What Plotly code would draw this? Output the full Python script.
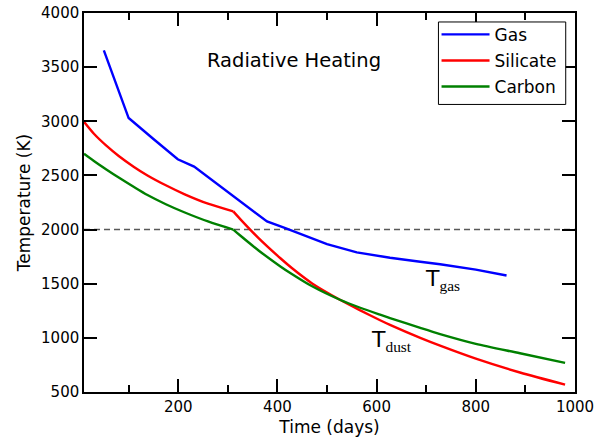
import plotly.graph_objects as go

# ---- data ----
gas_days = [50, 100, 150, 199, 232, 295, 325, 379, 416, 456, 500, 560, 627, 688, 728, 800, 862]
gas_temp = [3655, 3030, 2836, 2649, 2581, 2362, 2258, 2075, 2013, 1940, 1865, 1790, 1740, 1703, 1680, 1630, 1576]

dust_days = [10, 30, 55, 80, 110, 138, 175, 212, 260, 311,
             325, 362, 406, 429, 470, 526, 567, 607, 627, 688, 728, 800, 889, 980]
silicate_temp = [2995, 2885, 2775, 2680, 2581, 2500, 2409, 2328, 2239, 2168,
                 2097, 1921, 1735, 1645, 1503, 1352, 1254, 1163, 1120, 1000, 928, 808, 680, 568]
carbon_temp = [2700, 2633, 2555, 2480, 2395, 2319, 2234, 2160, 2075, 2000,
               1945, 1807, 1660, 1590, 1476, 1352, 1278, 1214, 1183, 1092, 1035, 945, 858, 769]

kink_day = 311          # day where the dust curves change slope
threshold_temp = 2000
x_range = [10, 1000]
y_range = [500, 4000]
x_major = [200, 400, 600, 800, 1000]
x_minor = [100, 300, 500, 700, 900]
y_major = [500, 1000, 1500, 2000, 2500, 3000, 3500, 4000]

FONT = "DejaVu Sans"
LW = 2.4

fig = go.Figure()
fig.add_trace(go.Scatter(x=gas_days, y=gas_temp, mode="lines", name="Gas",
                         legendgroup="gas", line=dict(color="#0000ff", width=LW)))


def add_dust(temps, name, color):
    k = dust_days.index(kink_day)
    first = True
    for lo, hi in ((0, k + 1), (k, len(dust_days))):
        fig.add_trace(go.Scatter(x=dust_days[lo:hi], y=temps[lo:hi], mode="lines", name=name,
                                 legendgroup=name, showlegend=first,
                                 line=dict(color=color, width=LW, shape="spline", smoothing=0.8)))
        first = False


add_dust(silicate_temp, "Silicate", "#ff0000")
add_dust(carbon_temp, "Carbon", "#008000")

fig.add_hline(y=threshold_temp, line=dict(color="rgba(0,0,0,0.65)", width=1.5, dash="6px,4px"),
              layer="below")

# legend frame
fig.add_shape(type="rect", xref="paper", yref="paper", x0=0.7219, x1=0.9811, y0=0.7587, y1=0.9763,
              line=dict(color="black", width=1), fillcolor="white", layer="above")

axis_common = dict(
    showline=True, linecolor="black", linewidth=1.5, mirror="allticks",
    ticks="inside", ticklen=13, tickwidth=1.5, tickcolor="black",
    showgrid=False, zeroline=False, automargin=False,
    tickfont=dict(family=FONT, size=15, color="black"),
)

fig.update_xaxes(range=x_range, tickvals=x_major,
                 minor=dict(tickvals=x_minor, ticks="inside", ticklen=7,
                            tickwidth=1.5, tickcolor="black", showgrid=False),
                 title=dict(text="Time (days)", font=dict(family=FONT, size=17, color="black"), standoff=6),
                 **axis_common)
fig.update_yaxes(range=y_range, tickvals=y_major,
                 title=dict(text="Temperature (K)", font=dict(family=FONT, size=17, color="black"), standoff=6),
                 **axis_common)

fig.add_annotation(text="Radiative Heating", xref="paper", yref="paper", x=0.428, y=0.875,
                   xanchor="center", yanchor="middle", showarrow=False,
                   font=dict(family=FONT, size=19.5, color="black"))
fig.add_annotation(text="T<sub><span style='font-family:Liberation Serif'>gas</span></sub>",
                   xref="x", yref="y", x=694, y=1536, xanchor="left", yanchor="middle",
                   showarrow=False, font=dict(family=FONT, size=22, color="black"))
fig.add_annotation(text="T<sub><span style='font-family:Liberation Serif'>dust</span></sub>",
                   xref="x", yref="y", x=585, y=975, xanchor="left", yanchor="middle",
                   showarrow=False, font=dict(family=FONT, size=22, color="black"))

fig.update_layout(
    width=616, height=441,
    margin=dict(l=84, r=41, t=13, b=49),
    paper_bgcolor="white", plot_bgcolor="white",
    font=dict(family=FONT, color="black"),
    legend=dict(x=0.718, y=0.990, xanchor="left", yanchor="top",
                borderwidth=0, bgcolor="rgba(0,0,0,0)", itemwidth=48,
                tracegroupgap=1,
                font=dict(family=FONT, size=17, color="black")),
)

fig.write_html("out.html")
